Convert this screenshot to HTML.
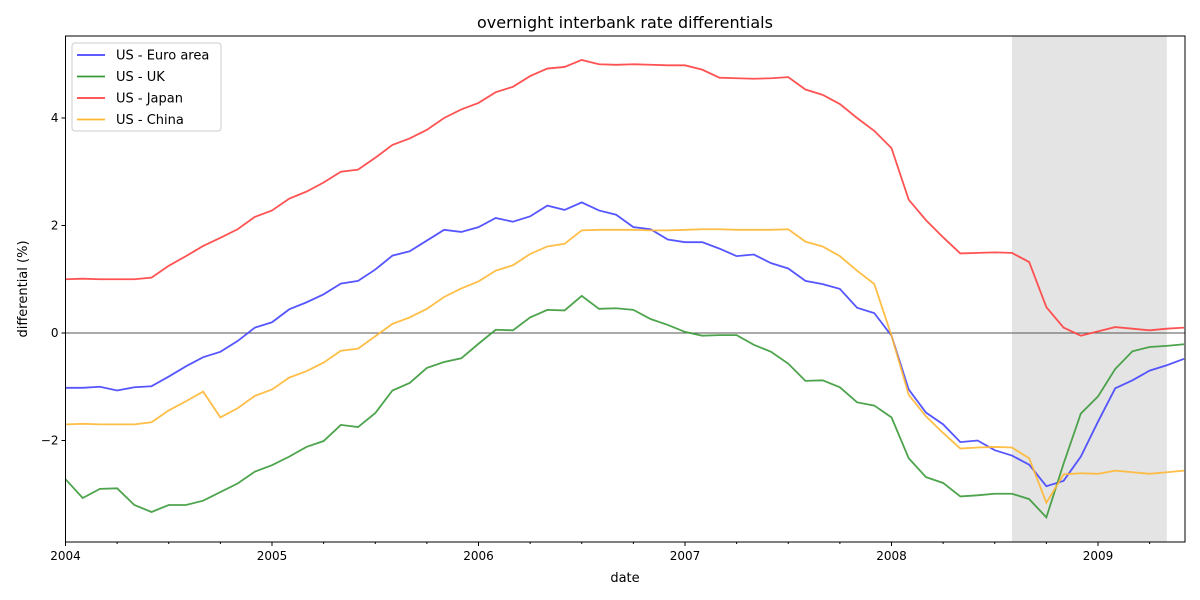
<!DOCTYPE html>
<html><head><meta charset="utf-8"><style>
body{margin:0;background:#fff;}
svg{display:block;font-family:"DejaVu Sans","Liberation Sans",sans-serif;}
</style></head><body>
<svg id="chart" width="1200" height="600">
<text x="625" y="28" text-anchor="middle" font-size="16">overnight interbank rate differentials</text>
<text x="625" y="582" text-anchor="middle" font-size="13">date</text>
<text transform="translate(27,289) rotate(-90)" text-anchor="middle" font-size="13">differential (%)</text>
<g id="plot"></g>
</svg>
<script>
const seriesNames = ["US - Euro area","US - UK","US - Japan","US - China"];
const colors = ["#4444ff","#3a9a3a","#ff4040","#ffb733"];
const euro = [-1.02,-1.02,-1.0,-1.07,-1.01,-0.99,-0.81,-0.62,-0.45,-0.35,-0.15,0.1,0.2,0.44,0.57,0.72,0.92,0.97,1.18,1.44,1.52,1.72,1.92,1.88,1.97,2.14,2.07,2.17,2.37,2.29,2.43,2.28,2.2,1.97,1.93,1.74,1.69,1.69,1.57,1.43,1.46,1.3,1.2,0.97,0.91,0.82,0.47,0.37,-0.05,-1.05,-1.48,-1.7,-2.03,-2.0,-2.18,-2.28,-2.45,-2.85,-2.75,-2.3,-1.65,-1.03,-0.88,-0.7,-0.6,-0.48];
const uk = [-2.72,-3.07,-2.9,-2.89,-3.2,-3.33,-3.2,-3.2,-3.12,-2.96,-2.8,-2.58,-2.46,-2.3,-2.12,-2.01,-1.71,-1.75,-1.49,-1.07,-0.93,-0.65,-0.54,-0.47,-0.2,0.06,0.05,0.29,0.43,0.42,0.69,0.45,0.46,0.43,0.26,0.15,0.02,-0.05,-0.04,-0.04,-0.22,-0.35,-0.57,-0.89,-0.88,-1.01,-1.29,-1.35,-1.57,-2.33,-2.68,-2.79,-3.04,-3.02,-2.99,-2.99,-3.09,-3.43,-2.43,-1.5,-1.18,-0.67,-0.34,-0.26,-0.24,-0.21];
const japan = [1.0,1.01,1.0,1.0,1.0,1.03,1.25,1.43,1.62,1.77,1.93,2.16,2.28,2.5,2.63,2.8,3.0,3.04,3.26,3.5,3.62,3.78,4.0,4.16,4.28,4.48,4.58,4.78,4.92,4.95,5.08,5.0,4.99,5.0,4.99,4.98,4.98,4.9,4.75,4.74,4.73,4.74,4.76,4.53,4.43,4.26,4.0,3.76,3.44,2.48,2.1,1.78,1.48,1.49,1.5,1.49,1.32,0.48,0.1,-0.05,0.03,0.11,0.08,0.05,0.08,0.1];
const china = [-1.7,-1.69,-1.7,-1.7,-1.7,-1.66,-1.44,-1.27,-1.09,-1.57,-1.4,-1.17,-1.05,-0.83,-0.71,-0.55,-0.33,-0.29,-0.06,0.17,0.29,0.45,0.67,0.83,0.96,1.16,1.26,1.47,1.61,1.66,1.91,1.92,1.92,1.92,1.91,1.91,1.92,1.93,1.93,1.92,1.92,1.92,1.93,1.7,1.61,1.43,1.16,0.91,-0.05,-1.15,-1.55,-1.86,-2.15,-2.13,-2.12,-2.13,-2.33,-3.16,-2.63,-2.61,-2.62,-2.56,-2.59,-2.62,-2.59,-2.56];
const allSeries = [euro, uk, japan, china];
const yTicks = [-2,0,2,4];
const xYears = ["2004","2005","2006","2007","2008","2009"];
const shadeStart = 55, shadeEnd = 64;

const L=65.5,R=1185,T=36,B=542;
const x = i => L + i*(206.5/12);
const y = v => 333 - v*53.75;
const NS="http://www.w3.org/2000/svg";
const g=document.getElementById('plot');
function mk(tag,attrs,parent){const e=document.createElementNS(NS,tag);for(const k in attrs)e.setAttribute(k,attrs[k]);(parent||g).appendChild(e);return e;}

const sh=mk('rect',{x:x(shadeStart),y:T,width:x(shadeEnd)-x(shadeStart),height:B-T,fill:'#e4e4e4'});


const zl=mk('line',{x1:L,x2:R,y1:y(0),y2:y(0),stroke:'#555','stroke-width':1});



allSeries.forEach((s,k)=>{
  const p=mk('polyline',{points:s.map((v,i)=>x(i)+','+y(v)).join(' '),fill:'none',stroke:colors[k],'stroke-width':1.8,'stroke-opacity':0.9});
  
  
});

const fr=mk('rect',{x:L,y:T,width:R-L,height:B-T,fill:'none',stroke:'#000','stroke-width':1});



yTicks.forEach(v=>{
  mk('line',{x1:L-4,x2:L,y1:y(v),y2:y(v),stroke:'#000'});
  const t=mk('text',{x:L-7,y:y(v)+4,'text-anchor':'end','font-size':12});
  t.textContent=(v<0?'\u2212'+(-v):v);
  
  
});
for(let i=0;i<=65;i+=3){
  const major=i%12===0;
  mk('line',{x1:x(i),x2:x(i),y1:B,y2:B+(major?4:2),stroke:'#000'});
}
xYears.forEach((lab,j)=>{
  const t=mk('text',{x:x(j*12),y:B+18,'text-anchor':'middle','font-size':12});
  t.textContent=lab;
  
  
});

const lg=mk('g',{});


mk('rect',{x:72,y:43,width:149,height:88,rx:3,fill:'#fff','fill-opacity':0.8,stroke:'#ccc'},lg);
seriesNames.forEach((n,k)=>{
  const yy=55+k*21.5;
  mk('line',{x1:77,x2:105,y1:yy,y2:yy,stroke:colors[k],'stroke-width':1.8},lg);
  const t=mk('text',{x:116,y:yy+4.5,'font-size':13},lg);
  t.textContent=n;
  
  
});
</script>
</body></html>
